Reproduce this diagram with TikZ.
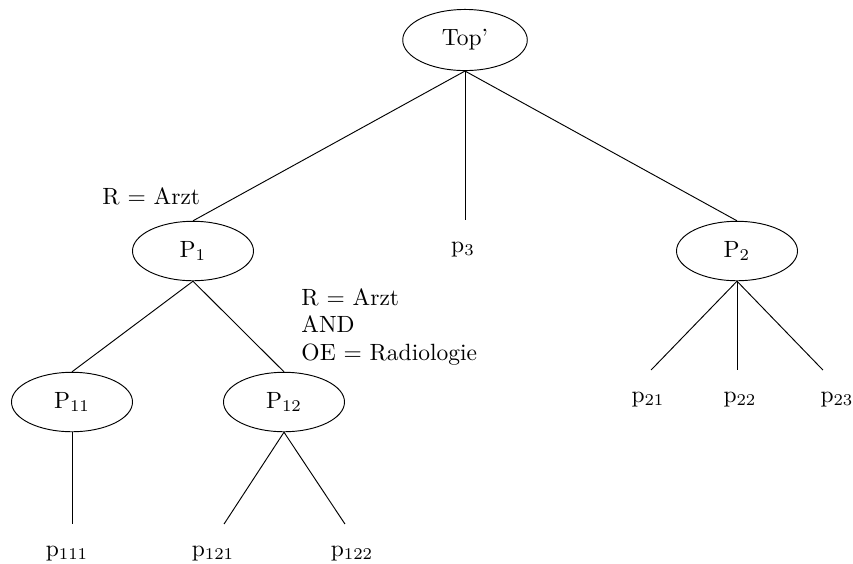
\documentclass[tikz,border=0pt]{standalone}
\usetikzlibrary{shapes.geometric}
\begin{document}
\begin{tikzpicture}[x=0.4255pt,y=-0.4255pt,
  ell/.style={draw, ellipse, minimum width=51.5pt, minimum height=25.3pt, inner sep=0pt},
  leaf/.style={anchor=north, inner sep=0pt, text height=13.6pt},
  lbl/.style={inner sep=0pt, anchor=base west, align=left, font=\fontsize{10}{11.5}\selectfont}]
\useasboundingbox (0,0) rectangle (853,563);
% inner nodes
\node[ell, minimum width=53pt, minimum height=26pt] (top) at (465,40) {Top'};
\node[ell] (P1) at (193,251) {P$_1$};
\node[ell] (P2) at (737,251) {P$_2$};
\node[ell] (P11) at (72,402) {P$_{11}$};
\node[ell] (P12) at (284,402) {P$_{12}$};
% leaves
\node[leaf] (p3) at (463,220) {p$_3$};
\node[leaf] (p21) at (648,370) {p$_{21}$};
\node[leaf] (p22) at (740,370) {p$_{22}$};
\node[leaf] (p23) at (837,370) {p$_{23}$};
\node[leaf] (p111) at (67,524) {p$_{111}$};
\node[leaf] (p121) at (213,524) {p$_{121}$};
\node[leaf] (p122) at (352,524) {p$_{122}$};
% labels
\node[lbl] (l1) at (102,204) {R = Arzt};
\node[lbl] (l2) at (301,360) {R = Arzt\\AND\\OE = Radiologie};
% edges
\draw (top.south) -- (P1.north);
\draw (top.south) -- (top.south |- p3.north);
\draw (top.south) -- (P2.north);
\draw (P1.south) -- (P11.north);
\draw (P1.south) -- (P12.north);
\draw (P2.south) -- ([xshift=1.3pt]p21.north);
\draw (P2.south) -- (P2.south |- p22.north);
\draw (P2.south) -- ([xshift=-6pt]p23.north);
\draw (P11.south) -- (P11.south |- p111.north);
\draw (P12.south) -- ([xshift=4.7pt]p121.north);
\draw (P12.south) -- ([xshift=-3pt]p122.north);
\end{tikzpicture}
\end{document}
